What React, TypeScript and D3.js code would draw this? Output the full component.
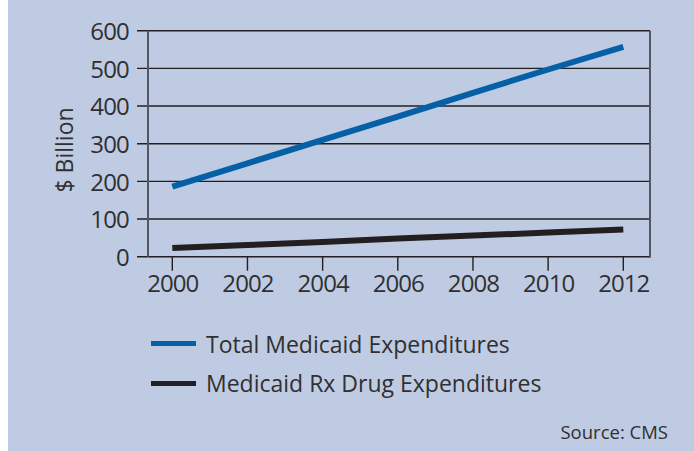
import React from "react";
import * as d3 from "d3";

const years = [2000, 2002, 2004, 2006, 2008, 2010, 2012];
const totalMedicaid = [186, 248, 310, 372, 435, 497, 557];
const rxDrug = [23, 31, 39, 48, 56, 64, 72];
const yTicks = [0, 100, 200, 300, 400, 500, 600];
const xTicks = [2000, 2002, 2004, 2006, 2008, 2010, 2012];
const seriesNames = ["Total Medicaid Expenditures", "Medicaid Rx Drug Expenditures"];
const seriesColors = ["#0560a6", "#231f20"];

const W = 694, H = 451;
const FONT = "'Open Sans', 'Noto Sans', sans-serif";
const TXT = "#303030";

export default function App() {
  const x = d3.scaleLinear().domain([2000, 2012]).range([172.3, 623.3]);
  const y = d3.scaleLinear().domain([0, 600]).range([256.7, 30.7]);
  const line = d3.line<[number, number]>().x(d => x(d[0])).y(d => y(d[1]));
  const series = [totalMedicaid, rxDrug];
  const left = 148, right = 650;

  return (
    <svg width={W} height={H} style={{ position: "absolute", left: 0, top: 0 }} fontFamily={FONT}>
      <rect x={0} y={0} width={W} height={H} fill="#ffffff" />
      <rect x={8} y={0} width={W - 8} height={H} fill="#bfcbe3" />
      {yTicks.map(t => (
        <g key={t}>
          <line x1={137} x2={right} y1={y(t)} y2={y(t)} stroke="#231f20" strokeWidth={1.4} />
          <text x={129} y={y(t) + 9.2} textAnchor="end" fontSize={24} letterSpacing={-0.8} fill={TXT}>{t}</text>
        </g>
      ))}
      <line x1={left} x2={left} y1={y(600)} y2={y(0)} stroke="#55555f" strokeWidth={2} />
      <line x1={right} x2={right} y1={y(600)} y2={y(0) + 1} stroke="#55555f" strokeWidth={2} />
      {xTicks.map(t => (
        <g key={t}>
          <line x1={x(t)} x2={x(t)} y1={y(0)} y2={y(0) + 14} stroke="#231f20" strokeWidth={1.4} />
          <text x={x(t) + 0.5} y={292.3} textAnchor="middle" fontSize={24} letterSpacing={-0.9} fill={TXT}>{t}</text>
        </g>
      ))}
      <text transform={`translate(73.3,150) rotate(-90)`} textAnchor="middle" fontSize={23} fill={TXT}>$ Billion</text>
      {series.map((s, i) => (
        <path key={i} d={line(years.map((yr, j) => [yr, s[j]] as [number, number])) || ""}
          fill="none" stroke={seriesColors[i]} strokeWidth={6} strokeLinecap="butt" />
      ))}
      {seriesNames.map((n, i) => (
        <g key={n}>
          <line x1={151} x2={196} y1={343.5 + i * 40} y2={343.5 + i * 40} stroke={seriesColors[i]} strokeWidth={5} />
          <text x={206} y={353.3 + i * 38.4} fontSize={23} fill={TXT}>{n}</text>
        </g>
      ))}
      <text x={668} y={438.5} textAnchor="end" fontSize={18.5} fill={TXT}>Source: CMS</text>
    </svg>
  );
}
